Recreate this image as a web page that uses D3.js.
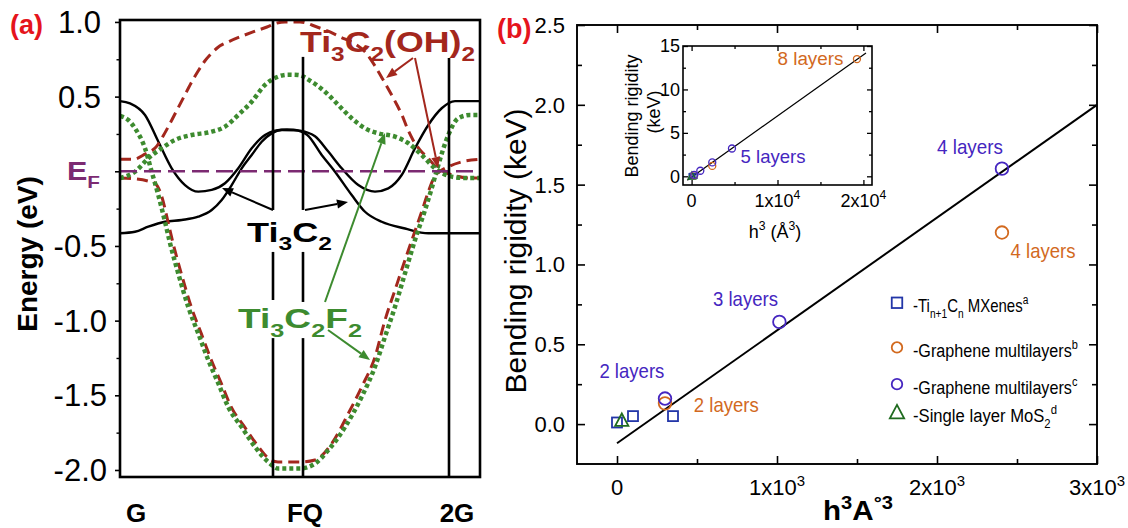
<!DOCTYPE html>
<html>
<head>
<meta charset="utf-8">
<script src="https://cdn.jsdelivr.net/npm/d3@7/dist/d3.min.js"></script>
<style>
  html,body{margin:0;padding:0;background:#fff;}
  svg{display:block;}
  text{font-family:"Liberation Sans",Arial,Helvetica,sans-serif;}
</style>
</head>
<body>
<svg id="chart" width="1128" height="528"></svg>
<script>
// ================= Panel (a): band structure data =================
const kRange = [0, 3.6];
const energyRange = [-2.047, 1.013];
const energyMajor = [1.0, 0.5, 0, -0.5, -1.0, -1.5, -2.0];
const energyTickLabels = ["1.0", "0.5", "", "-0.5", "-1.0", "-1.5", "-2.0"];
const energyMinor = [0.75, 0.25, -0.25, -0.75, -1.25, -1.75];
const kPointNames = ["G", "FQ", "2G"];
const kPointNamePos = [0.16, 1.85, 3.37];
const kLineK = [1.53, 1.83, 3.29];
const kLineSegments = [
  [[1.013, -0.259], [-0.54, -0.862], [-1.117, -2.047]],
  [[0.766, -0.259], [-0.54, -0.875], [-1.117, -2.047]],
  [[0.759, -2.047]]
];

const ti3c2Band1 = [[0,0.47],[0.10,0.455],[0.25,0.377],[0.383,0.199],[0.517,0.02],[0.65,-0.092],[0.783,-0.136],[0.917,-0.125],[1.05,-0.08],[1.183,0.02],[1.317,0.154],[1.45,0.243],[1.55,0.272],[1.67,0.28],[1.80,0.272],[1.95,0.235],[2.083,0.132],[2.217,0.02],[2.383,-0.092],[2.55,-0.136],[2.683,-0.114],[2.817,-0.025],[2.95,0.154],[3.083,0.31],[3.217,0.422],[3.35,0.47],[3.6,0.47]];
const ti3c2Band2 = [[0,-0.415],[0.15,-0.405],[0.283,-0.371],[0.45,-0.338],[0.617,-0.326],[0.783,-0.304],[0.917,-0.259],[1.017,-0.192],[1.117,-0.092],[1.217,0.02],[1.317,0.109],[1.417,0.198],[1.517,0.254],[1.62,0.276],[1.75,0.274],[1.87,0.245],[2.017,0.109],[2.15,-0.003],[2.317,-0.159],[2.45,-0.271],[2.617,-0.338],[2.85,-0.383],[3.083,-0.415],[3.283,-0.415],[3.6,-0.415]];
const ti3c2f2Band1 = [[0,-0.045],[0.15,-0.003],[0.283,0.087],[0.417,0.154],[0.55,0.21],[0.717,0.243],[0.917,0.265],[1.05,0.299],[1.183,0.377],[1.317,0.466],[1.45,0.578],[1.583,0.634],[1.68,0.647],[1.78,0.645],[1.917,0.6],[2.05,0.533],[2.183,0.444],[2.317,0.355],[2.45,0.288],[2.583,0.254],[2.75,0.232],[2.883,0.188],[3.017,0.109],[3.15,0.02],[3.317,-0.036],[3.45,-0.045],[3.6,-0.045]];
const ti3c2f2Band2 = [[0,0.37],[0.08,0.345],[0.15,0.288],[0.25,0.154],[0.317,-0.003],[0.383,-0.159],[0.45,-0.338],[0.5,-0.48],[0.583,-0.685],[0.683,-0.909],[0.783,-1.087],[0.883,-1.264],[0.983,-1.42],[1.083,-1.579],[1.217,-1.713],[1.35,-1.845],[1.483,-1.947],[1.583,-1.99],[1.8,-1.99],[1.95,-1.957],[2.083,-1.867],[2.25,-1.713],[2.417,-1.51],[2.55,-1.309],[2.65,-1.108],[2.75,-0.907],[2.85,-0.683],[2.95,-0.46],[3.05,-0.26],[3.117,-0.114],[3.183,0.042],[3.283,0.243],[3.383,0.355],[3.5,0.377],[3.6,0.377]];
const ti3c2oh2Band1 = [[0,0.08],[0.13,0.08],[0.25,0.115],[0.37,0.17],[0.43,0.235],[0.5,0.32],[0.57,0.41],[0.64,0.5],[0.71,0.59],[0.78,0.67],[0.85,0.74],[0.93,0.80],[1.0,0.84],[1.1,0.872],[1.2,0.9],[1.33,0.933],[1.47,0.966],[1.57,0.993],[1.65,1.0],[1.8,1.0],[1.97,0.966],[2.1,0.933],[2.2,0.9],[2.35,0.853],[2.45,0.8],[2.55,0.705],[2.62,0.625],[2.7,0.531],[2.77,0.444],[2.82,0.377],[2.88,0.277],[2.93,0.21],[3.0,0.143],[3.08,0.089],[3.16,0.029],[3.25,-0.005],[3.35,-0.03],[3.5,-0.045],[3.6,-0.045]];
const ti3c2oh2Band2 = [[0,-0.045],[0.15,-0.05],[0.28,-0.065],[0.35,-0.08],[0.413,-0.159],[0.48,-0.338],[0.53,-0.48],[0.613,-0.685],[0.713,-0.909],[0.813,-1.087],[0.913,-1.264],[1.013,-1.42],[1.113,-1.579],[1.247,-1.713],[1.38,-1.84],[1.5,-1.93],[1.58,-1.947],[1.8,-1.947],[1.95,-1.933],[2.117,-1.823],[2.283,-1.622],[2.417,-1.444],[2.55,-1.243],[2.65,-0.997],[2.75,-0.795],[2.85,-0.594],[2.95,-0.40],[3.017,-0.27],[3.083,-0.137],[3.15,-0.03],[3.2,0.0],[3.28,0.03],[3.4,0.06],[3.6,0.08]];

// arrows in (k, E)
const arrowFrom = [[1.53,-0.259],[1.85,-0.259],[2.93,0.759],[2.95,0.759],[2.05,-0.875],[2.08,-1.063]];
const arrowTo   = [[1.02,-0.112],[2.28,-0.206],[2.66,0.625],[3.18,0.022],[2.65,0.257],[2.50,-1.264]];
const arrowGroup = ["ti3c2","ti3c2","oh","oh","f","f"];

// labels in (k, E)
const bandLabelParts = [
  [["Ti",""],["3","sub"],["C",""],["2","sub"],["(OH)",""],["2","sub"]],
  [["Ti",""],["3","sub"],["C",""],["2","sub"]],
  [["Ti",""],["3","sub"],["C",""],["2","sub"],["F",""],["2","sub"]]
];
const bandLabelPos = [[1.80,0.80],[1.27,-0.474],[1.18,-1.05]];
const bandLabelGroup = ["oh","ti3c2","f"];

// ================= Panel (b): bending rigidity data =================
const h3Domain = [-250, 3000];
const rigidityDomain = [-0.25, 2.5];
const xMajorB = [0, 1000, 2000, 3000];
const xMinorB = [500, 1500, 2500];
const xTickTextB = [["0",""],["1x10","3"],["2x10","3"],["3x10","3"]];
const yMajorB = [0, 0.5, 1.0, 1.5, 2.0, 2.5];
const yMinorB = [0.25, 0.75, 1.25, 1.75, 2.25];
const yTickTextB = ["0.0","0.5","1.0","1.5","2.0","2.5"];

const mxeneH3 = [0, 100, 350];
const mxeneRig = [0.01, 0.05, 0.05];
const grapheneBH3 = [300, 2406, 19249];
const grapheneBRig = [0.13, 1.2, 13.5];
const grapheneCH3 = [300, 1015, 2406, 4699];
const grapheneCRig = [0.16, 0.64, 1.6, 3.2];
const mos2H3 = [30];
const mos2Rig = [0.02];
const fitMainH3 = [0, 3000];
const fitMainRig = [-0.12, 2.0];

const mainLabels = ["2 layers","2 layers","3 layers","4 layers","4 layers"];
const mainLabelPos = [[-110,0.29],[480,0.075],[600,0.74],[2000,1.69],[2460,1.04]];
const mainLabelSeries = ["c","b","c","c","b"];

const legendSeries = ["mx","b","c","mos"];
const legendText = [
  [["-Ti",""],["n+1","sub"],["C",""],["n","sub"],[" MXenes",""],["a","sup"]],
  [["-Graphene multilayers",""],["b","sup"]],
  [["-Graphene multilayers",""],["c","sup"]],
  [["-Single layer MoS",""],["2","sub"],["d","sup"]]
];
const legendRig = [0.76, 0.48, 0.25, 0.07];

// inset
const insetH3Domain = [-1000, 21000];
const insetRigDomain = [-1, 15];
const insetXMajor = [0, 10000, 20000];
const insetXMinor = [5000, 15000];
const insetXTickText = [["0",""],["1x10","4"],["2x10","4"]];
const insetYMajor = [0, 5, 10, 15];
const insetYMinor = [2.5, 7.5, 12.5];
const insetYTickText = ["0","5","10","15"];
const fitInsetH3 = [-500, 20300];
const fitInsetRig = [-0.45, 14.2];
const insetLabels = ["8 layers","5 layers"];
const insetLabelPos = [[10000,12.8],[5700,1.5]];
const insetLabelSeries = ["b","c"];

// ================= drawing =================
const COL = {
  ti3c2:"#000000", oh:"#a3271d", f:"#3d8b2f", ef:"#7c2a72",
  mx:"#2336a8", b:"#d2691e", c:"#4526c0", mos:"#1f6b1f", panel:"#e5141c"
};
const svg = d3.select("#chart");

function rich(g, parts, size, attrs) {
  const t = g.append("text").attr("font-size", size);
  Object.entries(attrs || {}).forEach(([k, v]) => t.attr(k, v));
  let cur = 0;
  parts.forEach(([s, m]) => {
    const target = m === "sub" ? size * 0.3 : m === "sup" ? -size * 0.42 : 0;
    const ts = t.append("tspan").text(s).attr("dy", target - cur);
    if (m) ts.attr("font-size", size * 0.68);
    cur = target;
  });
  return t;
}
function fitW(t, ax, w) {
  const bw = t.node().getBBox().width;
  const s = w / bw;
  t.attr("transform", `translate(${ax},0) scale(${s},1) translate(${-ax},0)`);
}

// ---------- panel (a) ----------
const xa = d3.scaleLinear().domain(kRange).range([120, 480]);
const ya = d3.scaleLinear().domain(energyRange).range([477, 20]);
const gA = svg.append("g");
const bandLine = d3.line().x(d => xa(d[0])).y(d => ya(d[1])).curve(d3.curveMonotoneX);

const bandDefs = [
  {d: ti3c2Band1, c: COL.ti3c2, w: 2.4, dash: null},
  {d: ti3c2Band2, c: COL.ti3c2, w: 2.4, dash: null},
  {d: ti3c2oh2Band1, c: COL.oh, w: 3, dash: "11,6"},
  {d: ti3c2oh2Band2, c: COL.oh, w: 3, dash: "11,6"},
  {d: ti3c2f2Band1, c: COL.f, w: 4.5, dash: "4,3"},
  {d: ti3c2f2Band2, c: COL.f, w: 4.5, dash: "4,3"}
];
gA.selectAll("path.band").data(bandDefs).join("path")
  .attr("class", "band")
  .attr("d", b => bandLine(b.d))
  .attr("fill", "none").attr("stroke", b => b.c).attr("stroke-width", b => b.w)
  .attr("stroke-dasharray", b => b.dash);

// Fermi level
gA.append("line").attr("x1", xa(kRange[0])).attr("x2", xa(kRange[1]))
  .attr("y1", ya(0)).attr("y2", ya(0))
  .attr("stroke", COL.ef).attr("stroke-width", 2.6).attr("stroke-dasharray", "17,7");

// vertical high symmetry lines
kLineK.forEach((k, i) => {
  kLineSegments[i].forEach(seg => {
    gA.append("line").attr("x1", xa(k)).attr("x2", xa(k))
      .attr("y1", ya(seg[0])).attr("y2", ya(seg[1]))
      .attr("stroke", "#000").attr("stroke-width", 2.6);
  });
});

// frame
gA.append("rect").attr("x", xa(kRange[0])).attr("y", ya(energyRange[1]))
  .attr("width", xa(kRange[1]) - xa(kRange[0])).attr("height", ya(energyRange[0]) - ya(energyRange[1]))
  .attr("fill", "none").attr("stroke", "#000").attr("stroke-width", 2.6);

// left axis ticks (outward)
const axA = gA.append("g").attr("transform", `translate(${xa(kRange[0])},0)`)
  .call(d3.axisLeft(ya).tickValues(energyMajor).tickSize(5).tickFormat(""));
axA.select(".domain").remove();
axA.selectAll("line").attr("stroke-width", 1.6);
const axA2 = gA.append("g").attr("transform", `translate(${xa(kRange[0])},0)`)
  .call(d3.axisLeft(ya).tickValues(energyMinor).tickSize(3.5).tickFormat(""));
axA2.select(".domain").remove();
axA2.selectAll("line").attr("stroke-width", 1.4);

energyMajor.forEach((v, i) => {
  if (!energyTickLabels[i]) return;
  gA.append("text").attr("x", v < 0 ? 107 : 101).attr("y", ya(v)).attr("dy", "0.36em")
    .attr("text-anchor", "end").attr("font-size", 31).text(energyTickLabels[i]);
});
// E_F label
const efT = rich(gA, [["E",""],["F","sub"]], 25, {x: 67, y: ya(0) + 9, fill: COL.ef, "font-weight": "bold"});
fitW(efT, 67, 33);

// k-point names
kPointNames.forEach((n, i) => {
  gA.append("text").attr("x", xa(kPointNamePos[i])).attr("y", 522).attr("text-anchor", "middle")
    .attr("font-size", 26).attr("font-weight", "bold").text(n);
});
// y-axis title
gA.append("text").attr("transform", `translate(37,254) rotate(-90)`).attr("text-anchor", "middle")
  .attr("font-size", 28).attr("font-weight", "bold").text("Energy (eV)");

// band labels
const labelWidths = [175, 85, 124];
const labelSizes = [30, 28, 28];
bandLabelParts.forEach((p, i) => {
  const x = xa(bandLabelPos[i][0]);
  const t = rich(gA, p, labelSizes[i], {x: x, y: ya(bandLabelPos[i][1]), fill: COL[bandLabelGroup[i]], "font-weight": "bold"});
  fitW(t, x, labelWidths[i]);
});

// arrows
arrowFrom.forEach((f, i) => {
  const x1 = xa(f[0]), y1 = ya(f[1]), x2 = xa(arrowTo[i][0]), y2 = ya(arrowTo[i][1]);
  const c = COL[arrowGroup[i]];
  const ang = Math.atan2(y2 - y1, x2 - x1), L = 11, W = 4.5;
  const bx = x2 - L * Math.cos(ang), by = y2 - L * Math.sin(ang);
  gA.append("line").attr("x1", x1).attr("y1", y1).attr("x2", bx).attr("y2", by)
    .attr("stroke", c).attr("stroke-width", 2);
  const px = -Math.sin(ang) * W, py = Math.cos(ang) * W;
  gA.append("path").attr("d", `M${x2},${y2}L${bx + px},${by + py}L${bx - px},${by - py}Z`).attr("fill", c);
});

// panel tags
svg.append("text").attr("x", 10).attr("y", 34).attr("font-family", "'Liberation Serif','Times New Roman',serif")
  .attr("font-size", 27).attr("font-weight", "bold").attr("fill", COL.panel).text("(a)");
svg.append("text").attr("x", 497).attr("y", 38).attr("font-family", "'Liberation Serif','Times New Roman',serif")
  .attr("font-size", 27).attr("font-weight", "bold").attr("fill", COL.panel).text("(b)");

// ---------- panel (b) ----------
const xb = d3.scaleLinear().domain(h3Domain).range([577, 1097]);
const yb = d3.scaleLinear().domain(rigidityDomain).range([464, 25]);
const gB = svg.append("g");

function inwardAxes(g, xs, ys, xMaj, xMin, yMaj, yMin, Lmaj, Lmin, sw) {
  const [x0, x1] = xs.range(), [y0, y1] = ys.range();
  const defs = [
    [d3.axisBottom, xs, `translate(0,${y0})`, xMaj, xMin],
    [d3.axisTop, xs, `translate(0,${y1})`, xMaj, xMin],
    [d3.axisLeft, ys, `translate(${x0},0)`, yMaj, yMin],
    [d3.axisRight, ys, `translate(${x1},0)`, yMaj, yMin]
  ];
  defs.forEach(([fn, sc, tr, maj, mn]) => {
    [[maj, Lmaj], [mn, Lmin]].forEach(([vals, L]) => {
      const a = g.append("g").attr("transform", tr).call(fn(sc).tickValues(vals).tickSize(-L).tickFormat(""));
      a.select(".domain").remove();
      a.selectAll("line").attr("stroke-width", sw);
    });
  });
  g.append("rect").attr("x", x0).attr("y", y1).attr("width", x1 - x0).attr("height", y0 - y1)
    .attr("fill", "none").attr("stroke", "#000").attr("stroke-width", sw + 0.3);
}
inwardAxes(gB, xb, yb, xMajorB, xMinorB, yMajorB, yMinorB, 8, 5, 1.6);

// tick labels
yMajorB.forEach((v, i) => {
  gB.append("text").attr("x", 565).attr("y", yb(v)).attr("dy", "0.36em").attr("text-anchor", "end")
    .attr("font-size", 22).text(yTickTextB[i]);
});
xMajorB.forEach((v, i) => {
  const [a, s] = xTickTextB[i];
  rich(gB, s ? [[a, ""], [s, "sup"]] : [[a, ""]], 22, {x: xb(v), y: 495, "text-anchor": "middle"});
});
// axis titles
gB.append("text").attr("transform", `translate(526,251) rotate(-90)`).attr("text-anchor", "middle")
  .attr("font-size", 30).text("Bending rigidity (keV)");
const xt = rich(gB, [["h",""],["3","sup"],["A",""],["\u00b03","sup"]], 27, {x: 823, y: 520, "font-weight": "bold"});
fitW(xt, 823, 70);

// fit line
const fitLine = d3.line().x(d => xb(d[0])).y(d => yb(d[1]));
gB.append("path").attr("d", fitLine(d3.zip(fitMainH3, fitMainRig))).attr("fill", "none")
  .attr("stroke", "#000").attr("stroke-width", 2);

function marker(g, type, x, y, s, sw) {
  const c = COL[type];
  if (type === "mx") {
    g.append("rect").attr("x", x - s / 2).attr("y", y - s / 2).attr("width", s).attr("height", s)
      .attr("fill", "none").attr("stroke", c).attr("stroke-width", sw);
  } else if (type === "mos") {
    g.append("path").attr("d", `M${x},${y - s * 0.62}L${x + s * 0.55},${y + s * 0.42}L${x - s * 0.55},${y + s * 0.42}Z`)
      .attr("fill", "none").attr("stroke", c).attr("stroke-width", sw);
  } else {
    g.append("circle").attr("cx", x).attr("cy", y).attr("r", s / 2)
      .attr("fill", "none").attr("stroke", c).attr("stroke-width", sw);
  }
}
function plotSeries(g, xs, ys, type, xv, yv, s, sw, dom) {
  xv.forEach((v, i) => {
    if (v > dom[1]) return;
    marker(g, type, xs(v), ys(yv[i]), s, sw);
  });
}
plotSeries(gB, xb, yb, "mx", mxeneH3, mxeneRig, 10, 1.8, h3Domain);
plotSeries(gB, xb, yb, "mos", mos2H3, mos2Rig, 12, 1.8, h3Domain);
plotSeries(gB, xb, yb, "b", grapheneBH3, grapheneBRig, 12.6, 1.8, h3Domain);
plotSeries(gB, xb, yb, "c", grapheneCH3, grapheneCRig, 12.6, 1.8, h3Domain);

const mainLabelW = [65, 65, 65, 66, 65];
mainLabels.forEach((l, i) => {
  const x = xb(mainLabelPos[i][0]);
  const t = gB.append("text").attr("x", x).attr("y", yb(mainLabelPos[i][1])).attr("font-size", 20)
    .attr("fill", COL[mainLabelSeries[i]]).text(l);
  fitW(t, x, mainLabelW[i]);
});

// legend
const legendW = [116, 165, 165, 144];
legendSeries.forEach((s, i) => {
  const y = yb(legendRig[i]);
  marker(gB, s, 897, y, s === "mos" ? 13 : 10.5, 1.8);
  const t = rich(gB, legendText[i], 19, {x: 913, y: y + 9.5});
  fitW(t, 913, legendW[i]);
});

// ---------- inset ----------
const xi = d3.scaleLinear().domain(insetH3Domain).range([683, 872]);
const yi = d3.scaleLinear().domain(insetRigDomain).range([185, 46]);
const gI = svg.append("g");
gI.append("rect").attr("x", 683).attr("y", 46).attr("width", 189).attr("height", 139).attr("fill", "#fff");
inwardAxes(gI, xi, yi, insetXMajor, insetXMinor, insetYMajor, insetYMinor, 5, 3, 1.3);
insetYMajor.forEach((v, i) => {
  gI.append("text").attr("x", 680).attr("y", yi(v)).attr("dy", "0.36em").attr("text-anchor", "end")
    .attr("font-size", 18).text(insetYTickText[i]);
});
insetXMajor.forEach((v, i) => {
  const [a, s] = insetXTickText[i];
  rich(gI, s ? [[a, ""], [s, "sup"]] : [[a, ""]], 18, {x: xi(v), y: 207, "text-anchor": "middle"});
});
gI.append("path").attr("d", d3.line().x(d => xi(d[0])).y(d => yi(d[1]))(d3.zip(fitInsetH3, fitInsetRig)))
  .attr("fill", "none").attr("stroke", "#000").attr("stroke-width", 1.2);
plotSeries(gI, xi, yi, "mx", mxeneH3, mxeneRig, 5, 1.3, insetH3Domain);
plotSeries(gI, xi, yi, "mos", mos2H3, mos2Rig, 7, 1.3, insetH3Domain);
plotSeries(gI, xi, yi, "b", grapheneBH3, grapheneBRig, 7, 1.3, insetH3Domain);
plotSeries(gI, xi, yi, "c", grapheneCH3, grapheneCRig, 7, 1.3, insetH3Domain);
const insetLabelW = [66, 65];
insetLabels.forEach((l, i) => {
  const x = xi(insetLabelPos[i][0]);
  const t = gI.append("text").attr("x", x).attr("y", yi(insetLabelPos[i][1])).attr("font-size", 19)
    .attr("fill", COL[insetLabelSeries[i]]).text(l);
  fitW(t, x, insetLabelW[i]);
});
gI.append("text").attr("transform", `translate(638,116) rotate(-90)`).attr("text-anchor", "middle")
  .attr("font-size", 18).text("Bending rigidity");
gI.append("text").attr("transform", `translate(660,112) rotate(-90)`).attr("text-anchor", "middle")
  .attr("font-size", 18).text("(keV)");
rich(gI, [["h",""],["3","sup"],[" (\u00c5",""],["3","sup"],[")",""]], 18, {x: 775, y: 238, "text-anchor": "middle"});
</script>
</body>
</html>
